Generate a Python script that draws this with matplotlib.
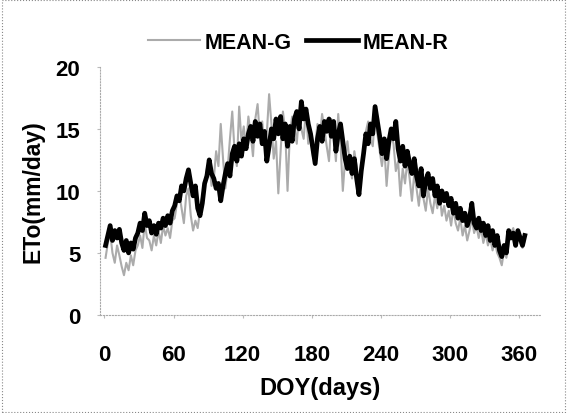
import matplotlib.pyplot as plt
from matplotlib.patches import Rectangle

plt.rcParams['font.family'] = ['Liberation Sans', 'DejaVu Sans']
plt.rcParams['font.weight'] = 'bold'

# day of year, sampled every 2 days
days = list(range(1, 366, 2))

mean_r = [5.6, 6.4, 7.2, 6.0, 6.8, 6.2, 6.9, 5.8, 5.2, 6.0,
          5.0, 5.8, 5.3, 6.2, 6.6, 7.4, 6.8, 8.2, 7.2, 7.6,
          6.6, 7.2, 6.5, 7.4, 7.0, 7.8, 7.2, 8.0, 7.4, 8.4,
          8.8, 9.6, 9.2, 10.4, 10.0, 11.0, 11.7, 10.6, 9.6, 10.4,
          8.6, 8.0, 9.0, 10.6, 11.2, 12.5, 11.4, 11.0, 10.2, 10.6,
          9.2, 10.4, 11.4, 12.2, 11.2, 13.0, 13.6, 12.4, 13.8, 12.8,
          14.2, 13.4, 14.6, 15.2, 14.0, 15.6, 14.4, 15.4, 13.8, 14.8,
          12.4, 13.6, 15.0, 14.2, 15.8, 14.6, 16.0, 14.2, 15.4, 13.6,
          15.2, 14.0, 15.8, 16.4, 15.0, 17.2, 15.8, 16.6, 15.4, 14.6,
          13.4, 12.2, 14.2, 15.2, 14.0, 15.6, 14.8, 15.8, 14.4, 15.6,
          13.2, 14.6, 15.4, 14.0, 12.6, 11.8, 12.8, 11.4, 12.6, 11.0,
          9.7, 11.6, 13.0, 14.6, 13.8, 15.4, 14.6, 16.8, 15.6, 14.4,
          13.0, 14.2, 12.6, 14.0, 15.0, 14.2, 15.6, 13.4, 12.4, 13.6,
          12.0, 13.2, 12.2, 11.4, 12.6, 11.2, 10.4, 11.8, 9.6, 10.8,
          11.4, 10.2, 11.0, 9.6, 10.4, 9.0, 10.0, 9.2, 9.8, 8.8,
          9.4, 8.2, 9.0, 7.8, 8.6, 7.6, 8.2, 7.2, 7.8, 9.0,
          7.4, 7.0, 7.8, 6.8, 7.4, 6.4, 7.2, 6.0, 6.8, 5.6,
          6.4, 5.2, 4.7, 5.6, 5.0, 6.8, 6.2, 6.6, 5.6, 6.8,
          6.2, 5.6, 6.4]

mean_g = [4.6, 5.8, 6.6, 5.0, 4.2, 5.6, 4.8, 3.9, 3.2, 4.2,
          3.6, 4.8, 4.0, 5.2, 5.6, 6.4, 5.4, 7.4, 6.2, 6.0,
          5.2, 6.4, 5.6, 6.8, 5.8, 7.2, 6.4, 7.0, 6.2, 7.6,
          7.8, 9.0, 9.8, 8.6, 7.4, 9.6, 10.2, 8.0, 6.8, 7.6,
          7.0, 8.4, 9.6, 10.6, 11.8, 12.4, 10.4, 11.0, 13.2, 12.0,
          15.4, 12.6, 10.2, 11.8, 14.2, 16.4, 13.2, 12.0, 16.8, 14.0,
          15.2, 13.4, 16.0, 14.6, 12.8, 15.8, 17.0, 14.4, 15.6, 13.6,
          14.6, 17.8, 15.4, 12.6, 14.0, 9.8, 13.2, 16.4, 14.8, 10.0,
          14.6, 16.0, 15.2, 13.8, 16.2, 15.0, 14.2, 16.6, 13.8, 14.8,
          12.8, 13.6, 15.4, 14.2, 16.2, 15.0, 13.6, 12.4, 15.8, 14.6,
          12.4, 16.2, 13.8, 10.0, 12.6, 14.0, 12.2, 11.0, 13.2, 12.0,
          9.6, 11.8, 12.6, 14.8, 15.6, 14.2, 13.6, 16.2, 14.6, 13.2,
          12.0, 13.6, 10.4, 12.8, 14.6, 13.8, 11.6, 12.4, 9.6, 11.8,
          10.6, 12.4, 11.0, 9.2, 11.4, 10.2, 8.8, 10.6, 9.4, 8.4,
          10.2, 9.0, 8.2, 9.6, 8.6, 9.8, 8.0, 8.8, 7.6, 8.4,
          7.2, 8.6, 7.4, 6.8, 7.8, 6.4, 7.2, 6.0, 6.8, 7.8,
          6.6, 7.2, 6.2, 7.0, 5.8, 6.6, 5.6, 6.2, 5.2, 6.0,
          5.0, 4.6, 4.0, 5.2, 4.6, 5.8, 6.6, 7.0, 5.8, 6.4,
          5.8, 5.4, 6.0]

xticks = [0, 60, 120, 180, 240, 300, 360]
yticks = [0, 5, 10, 15, 20]

fig = plt.figure(figsize=(5.67, 4.14), dpi=100)
ax = fig.add_axes([0.176, 0.237, 0.776, 0.599])

ax.plot(days, mean_g, color='#ababab', lw=1.5, label='MEAN-G', zorder=2)
ax.plot(days, mean_r, color='black', lw=3.4, label='MEAN-R', zorder=3)

ax.set_xlim(-4, 378)
ax.set_ylim(0, 20)
ax.set_xticks(xticks)
ax.set_yticks(yticks)
ax.tick_params(labelsize=16, length=2, color='#bbbbbb')
ax.tick_params(axis='x', pad=19)
ax.tick_params(axis='y', pad=12)
for s in ['top', 'right']:
    ax.spines[s].set_visible(False)
for s in ['left', 'bottom']:
    ax.spines[s].set_linestyle(':')
    ax.spines[s].set_color('#aaaaaa')
    ax.spines[s].set_linewidth(0.8)

ax.set_xlabel('DOY(days)', fontsize=17, fontweight='bold', labelpad=8)
ax.set_ylabel('ETo(mm/day)', fontsize=16.5, fontweight='bold', labelpad=8)

fig.legend(loc='center', bbox_to_anchor=(0.526, 0.896), ncol=2, frameon=False,
           prop={'size': 15.5, 'weight': 'bold'}, handlelength=2.4,
           handletextpad=0.2, columnspacing=0.7)

fig.patches.append(Rectangle((0.003, 0.003), 0.994, 0.994, transform=fig.transFigure,
                             fill=False, ls=':', lw=0.8, ec='#888888'))

fig.savefig('out.png', dpi=100)
